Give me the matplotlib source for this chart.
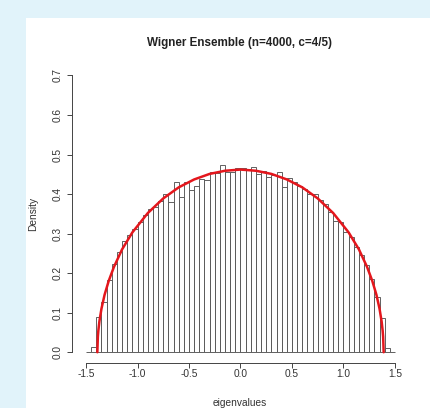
import numpy as np
import matplotlib
matplotlib.use('Agg')
import matplotlib.pyplot as plt
from matplotlib.patches import Rectangle

plt.rcParams['font.family'] = ['Liberation Sans', 'DejaVu Sans']

# histogram breaks (width 0.05) and bar heights (density)
breaks = np.round(np.arange(-1.5, 1.5001, 0.05), 2)
density = [0.000, 0.013, 0.089, 0.127, 0.182, 0.223, 0.254, 0.281, 0.296, 0.311,
           0.330, 0.348, 0.362, 0.368, 0.383, 0.399, 0.380, 0.430, 0.393, 0.430,
           0.410, 0.420, 0.437, 0.436, 0.455, 0.453, 0.473, 0.456, 0.455, 0.467,
           0.466, 0.463, 0.468, 0.452, 0.459, 0.442, 0.449, 0.455, 0.418, 0.441,
           0.430, 0.421, 0.412, 0.400, 0.399, 0.385, 0.374, 0.355, 0.332, 0.330,
           0.305, 0.292, 0.267, 0.247, 0.221, 0.185, 0.140, 0.086, 0.010, 0.000]

# red theoretical curve
curve_x = [-1.39, -1.385, -1.38, -1.37, -1.35, -1.32, -1.28, -1.23, -1.15, -1.05,
           -0.9, -0.75, -0.6, -0.45, -0.3, -0.15, 0.0,
           0.15, 0.3, 0.45, 0.6, 0.75, 0.9, 1.05, 1.15, 1.23, 1.28, 1.32, 1.35,
           1.37, 1.38, 1.385, 1.39]
curve_y = [0.0, 0.039, 0.055, 0.078, 0.110, 0.145, 0.180, 0.215, 0.260, 0.303,
           0.352, 0.389, 0.417, 0.437, 0.451, 0.459, 0.462,
           0.459, 0.451, 0.437, 0.417, 0.389, 0.352, 0.303, 0.260, 0.215, 0.180,
           0.145, 0.110, 0.078, 0.055, 0.039, 0.0]

xticks = [-1.5, -1.0, -0.5, 0.0, 0.5, 1.0, 1.5]
yticks = [0.0, 0.1, 0.2, 0.3, 0.4, 0.5, 0.6, 0.7]

W, H = 431, 408
fig = plt.figure(figsize=(W / 100, H / 100), dpi=100)
fig.patch.set_facecolor('#e1f3fa')
fig.patches.append(Rectangle((26 / W, 0), 1 - 26 / W, 1 - 18 / H,
                             transform=fig.transFigure, facecolor='white',
                             edgecolor='none', zorder=-10))

ax = fig.add_axes([72 / W, (H - 363.3) / H, 337 / W, (363.3 - 64.4) / H])
ax.set_facecolor('none')
ax.set_zorder(5)

ax.bar(breaks[:-1], density, width=0.05, align='edge', facecolor='white',
       edgecolor='#555555', linewidth=0.65)
ax.plot(curve_x, curve_y, color='#e4161c', linewidth=1.8, solid_capstyle='round')

ax.set_xlim(-1.636, 1.636)
ax.set_ylim(-0.028, 0.728)

for s in ['top', 'right']:
    ax.spines[s].set_visible(False)
ax.spines['left'].set_bounds(0, 0.7)
ax.spines['bottom'].set_bounds(-1.5, 1.5)
for s in ['left', 'bottom']:
    ax.spines[s].set_color('#444444')
    ax.spines[s].set_linewidth(0.7)

ax.set_xticks(xticks)
ax.set_xticklabels(['%.1f' % v for v in xticks])
ax.set_yticks(yticks)
ax.set_yticklabels(['%.1f' % v for v in yticks], rotation=90, va='center')
ax.tick_params(axis='both', length=3.6, width=0.7, color='#444444',
               labelsize=7.3, labelcolor='#333333')
ax.tick_params(axis='x', pad=0.8)
ax.tick_params(axis='y', pad=3.5)

fig.text(240 / W, 1 - 43 / H, 'Wigner Ensemble (n=4000, c=4/5)', ha='center',
         va='center', fontsize=8.4, fontweight='bold', color='#222222')
fig.text(240 / W, 1 - 403 / H, 'eigenvalues', ha='center', va='center',
         fontsize=7.3, color='#333333')
fig.text(33 / W, 1 - 214 / H, 'Density', ha='center', va='center',
         rotation=90, fontsize=7.3, color='#333333')

fig.savefig('out.png', dpi=100)
